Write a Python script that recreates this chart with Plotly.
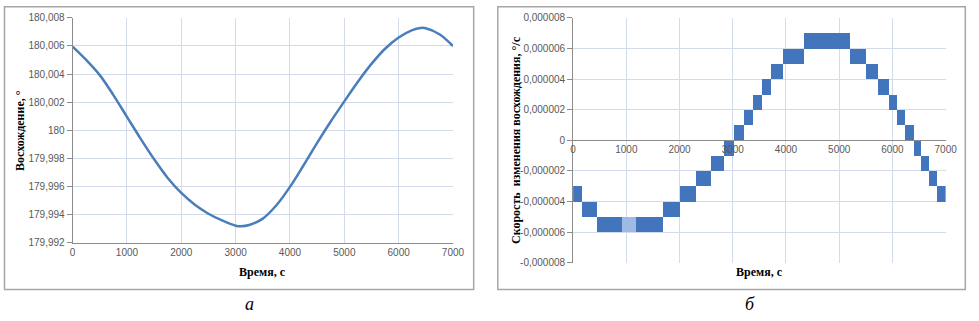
import plotly.graph_objects as go

# ---------------- data ----------------
# Left panel: right ascension (deg) vs time (s)
time_a = [0, 250, 500, 750, 1000, 1250, 1500, 1750, 2000, 2250, 2500, 2750, 3000,
          3100, 3250, 3500, 3750, 4000, 4250, 4500, 4750, 5000, 5250, 5500, 5750,
          6000, 6250, 6400, 6500, 6750, 7000]
ascension = [180.00595, 180.00500, 180.00392, 180.00250, 180.00095, 179.99940,
             179.99793, 179.99660, 179.99553, 179.99469, 179.99405, 179.99357,
             179.99320, 179.99316, 179.99325, 179.99370, 179.99465, 179.99596,
             179.99750, 179.99910, 180.00062, 180.00205, 180.00345, 180.00472,
             180.00580, 180.00660, 180.00713, 180.00728, 180.00726, 180.00683,
             180.00599]

# Right panel: rate of change; value oscillates between a lower and upper level
seg_start = [0, 160, 450, 1700, 2010, 2310, 2600, 2840, 3030, 3215, 3390, 3545,
             3720, 3950, 4350, 5200, 5515, 5730, 5930, 6090, 6245, 6400, 6545,
             6690, 6840]
seg_end = [160, 450, 1700, 2010, 2310, 2600, 2840, 3030, 3215, 3390, 3545, 3720,
           3950, 4350, 5200, 5515, 5730, 5930, 6090, 6245, 6400, 6545, 6690, 6840,
           7000]
level_low = [-4e-6, -5e-6, -6e-6, -5e-6, -4e-6, -3e-6, -2e-6, -1e-6, 0, 1e-6, 2e-6,
             3e-6, 4e-6, 5e-6, 6e-6, 5e-6, 4e-6, 3e-6, 2e-6, 1e-6, 0, -1e-6, -2e-6,
             -3e-6, -4e-6]
level_high = [-3e-6, -4e-6, -5e-6, -4e-6, -3e-6, -2e-6, -1e-6, 0, 1e-6, 2e-6, 3e-6,
              4e-6, 5e-6, 6e-6, 7e-6, 6e-6, 5e-6, 4e-6, 3e-6, 2e-6, 1e-6, 0, -1e-6,
              -2e-6, -3e-6]
# lighter (sparser switching) patch inside the lowest band
sparse_start = [930]
sparse_end = [1180]
sparse_low = [-6e-6]
sparse_high = [-5e-6]

x_ticks = [0, 1000, 2000, 3000, 4000, 5000, 6000, 7000]
ya_tickvals = [179.992, 179.994, 179.996, 179.998, 180.0, 180.002, 180.004, 180.006, 180.008]
ya_ticktext = ["179,992", "179,994", "179,996", "179,998", "180", "180,002", "180,004",
               "180,006", "180,008"]
yb_tickvals = [-8e-6, -6e-6, -4e-6, -2e-6, 0, 2e-6, 4e-6, 6e-6, 8e-6]
yb_ticktext = ["-0,000008", "-0,000006", "-0,000004", "-0,000002", "0", "0,000002",
               "0,000004", "0,000006", "0,000008"]

title_x = "Время, с"
title_ya = "Восхождение, °"
title_yb = "Скорость \u00a0изменения восхождения, °/с"
label_a = "а"
label_b = "б"

# ---------------- figure ----------------
W, H = 979, 321
LINE = "#4A7EBB"
BAR = "#4275BC"
GRID = "#D3DAEA"
AXIS = "#8C8C8C"
TICKFONT = dict(family="Liberation Sans", size=10, color="#595959")
TITLEFONT = dict(family="Liberation Serif", size=12, color="#000000")

xa_dom = [70.7 / W, 457.0 / W]
ya_dom = [1 - 245.7 / H, 1 - 12.3 / H]
xb_dom = [579.0 / W, 957.3 / W]
yb_dom = [1 - 266.7 / H, 1 - 12.3 / H]
yb_range = [-8e-6, 8e-6]
zero_pos = yb_dom[0] + (0 - yb_range[0]) / (yb_range[1] - yb_range[0]) * (yb_dom[1] - yb_dom[0])

fig = go.Figure()

fig.add_trace(go.Scatter(
    x=time_a, y=ascension, mode="lines",
    line=dict(color=LINE, width=2.5, shape="spline", smoothing=1.0),
    xaxis="x", yaxis="y", showlegend=False, hoverinfo="skip"))

fig.add_trace(go.Bar(
    x=[(s + e) / 2 for s, e in zip(seg_start, seg_end)],
    width=[e - s for s, e in zip(seg_start, seg_end)],
    base=level_low,
    y=[h - l for h, l in zip(level_high, level_low)],
    marker=dict(color=BAR, line=dict(width=0)),
    xaxis="x2", yaxis="y2", showlegend=False, hoverinfo="skip"))

fig.add_trace(go.Bar(
    x=[(s + e) / 2 for s, e in zip(sparse_start, sparse_end)],
    width=[e - s for s, e in zip(sparse_start, sparse_end)],
    base=sparse_low,
    y=[h - l for h, l in zip(sparse_high, sparse_low)],
    marker=dict(color="#9DBAE2", line=dict(width=0)),
    xaxis="x2", yaxis="y2", showlegend=False, hoverinfo="skip"))

common_x = dict(tickvals=x_ticks, ticktext=[str(v) for v in x_ticks], tickfont=TICKFONT,
                showgrid=True, gridcolor=GRID, gridwidth=1, showline=True, linecolor=AXIS,
                linewidth=1, ticks="", zeroline=False, range=[0, 7000], fixedrange=True)
common_y = dict(tickfont=TICKFONT, showgrid=True, gridcolor=GRID, gridwidth=1,
                showline=True, linecolor=AXIS, linewidth=1, ticks="outside", ticklen=5,
                tickcolor=AXIS, zeroline=False, fixedrange=True)

fig.update_layout(
    width=W, height=H, margin=dict(l=0, r=0, t=0, b=0),
    paper_bgcolor="white", plot_bgcolor="white",
    bargap=0, barmode="overlay",
    xaxis=dict(domain=xa_dom, anchor="y", **common_x),
    yaxis=dict(domain=ya_dom, anchor="x", range=[179.992, 180.008],
               tickvals=ya_tickvals, ticktext=ya_ticktext, **common_y),
    xaxis2=dict(domain=xb_dom, anchor="free", position=zero_pos, **common_x),
    yaxis2=dict(domain=yb_dom, anchor="x2", range=yb_range,
                tickvals=yb_tickvals, ticktext=yb_ticktext, **common_y),
)

# panel frames
for x0, x1 in [(1.5, 478.0), (502.5, 977.3)]:
    fig.add_shape(type="rect", xref="paper", yref="paper",
                  x0=x0 / W, x1=x1 / W, y0=1 - 294.5 / H, y1=1 - 0.8 / H,
                  line=dict(color="#A6A6A6", width=1.5), fillcolor="rgba(0,0,0,0)", layer="below")

ann = []
ann.append(dict(text="<b>%s</b>" % title_x, x=sum(xa_dom) / 2, y=1 - 276 / H, xref="paper", yref="paper",
                showarrow=False, font=TITLEFONT, xanchor="center", yanchor="middle"))
ann.append(dict(text="<b>%s</b>" % title_x, x=sum(xb_dom) / 2, y=1 - 276 / H, xref="paper", yref="paper",
                showarrow=False, font=TITLEFONT, xanchor="center", yanchor="middle"))
ann.append(dict(text="<b>%s</b>" % title_ya, x=17 / W, y=sum(ya_dom) / 2, xref="paper", yref="paper",
                showarrow=False, font=TITLEFONT, textangle=-90, xanchor="center", yanchor="middle"))
ann.append(dict(text="<b>%s</b>" % title_yb, x=521.7 / W, y=sum(yb_dom) / 2, xref="paper", yref="paper",
                showarrow=False, font=TITLEFONT, textangle=-90, xanchor="center", yanchor="middle"))
ann.append(dict(text="<i>%s</i>" % label_a, x=250 / W, y=1 - 310 / H, xref="paper", yref="paper",
                showarrow=False, font=dict(family="Liberation Serif", size=18, color="#000"),
                xanchor="center", yanchor="middle"))
ann.append(dict(text="<i>%s</i>" % label_b, x=759 / W, y=1 - 310 / H, xref="paper", yref="paper",
                showarrow=False, font=dict(family="Liberation Serif", size=18, color="#000"),
                xanchor="center", yanchor="middle"))
fig.update_layout(annotations=ann)

fig.write_html("out.html", config={"displayModeBar": False},
               post_script="document.body.style.margin='0';")
